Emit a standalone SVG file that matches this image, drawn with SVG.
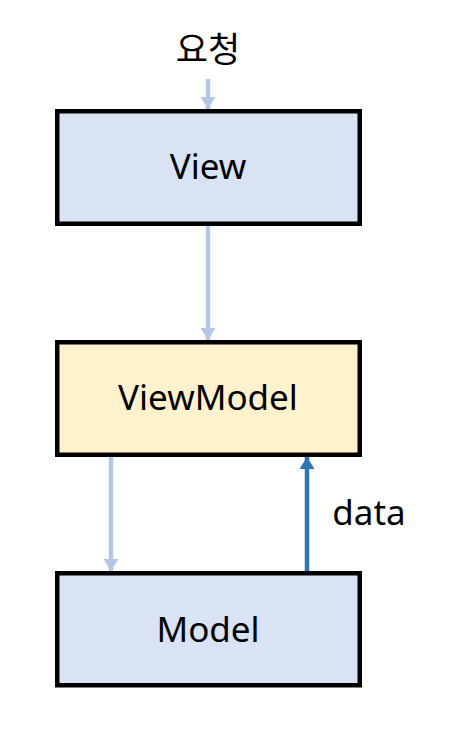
<svg xmlns="http://www.w3.org/2000/svg" width="450" height="734" viewBox="0 0 450 734">
<style>
.box{stroke:#000;stroke-width:4.5}
.lbl{font-family:"Noto Sans","Noto Sans CJK KR",sans-serif;font-size:35px;fill:#000;text-anchor:middle}
.light{stroke:#b4c7e7;stroke-width:4.5;fill:none}
.dark{stroke:#2e75b6;stroke-width:4.5;fill:none}
</style>
<defs>
<marker id="hl" markerUnits="userSpaceOnUse" viewBox="0 0 12 15" refX="12" refY="7.5" markerWidth="12" markerHeight="15" orient="auto"><path d="M0,0 L12,7.5 L0,15 z" fill="#b4c7e7"/></marker>
<marker id="hd" markerUnits="userSpaceOnUse" viewBox="0 0 12 15" refX="12" refY="7.5" markerWidth="12" markerHeight="15" orient="auto"><path d="M0,0 L12,7.5 L0,15 z" fill="#2e75b6"/></marker>
</defs>
<rect width="450" height="734" fill="#fff"/>
<g id="connectors">
<line class="light" x1="208" y1="79" x2="208" y2="109" marker-end="url(#hl)"/>
<line class="light" x1="208" y1="226" x2="208" y2="340" marker-end="url(#hl)"/>
<line class="light" x1="111" y1="457" x2="111" y2="571" marker-end="url(#hl)"/>
<line class="dark" x1="307" y1="571" x2="307" y2="457" marker-end="url(#hd)"/>
<text class="lbl" x="369" y="525">data</text>
</g>
<g id="request"><text class="lbl" x="208" y="62">요청</text></g>
<g id="view"><rect class="box" x="57.25" y="111.25" width="302.5" height="112.5" fill="#dae3f3"/><text class="lbl" x="208" y="179">View</text></g>
<g id="viewmodel"><rect class="box" x="57.25" y="342.25" width="302.5" height="112.5" fill="#fff2cc"/><text class="lbl" x="208" y="410">ViewModel</text></g>
<g id="model"><rect class="box" x="57.25" y="573.25" width="302.5" height="112" fill="#dae3f3"/><text class="lbl" x="208" y="642">Model</text></g>
</svg>
